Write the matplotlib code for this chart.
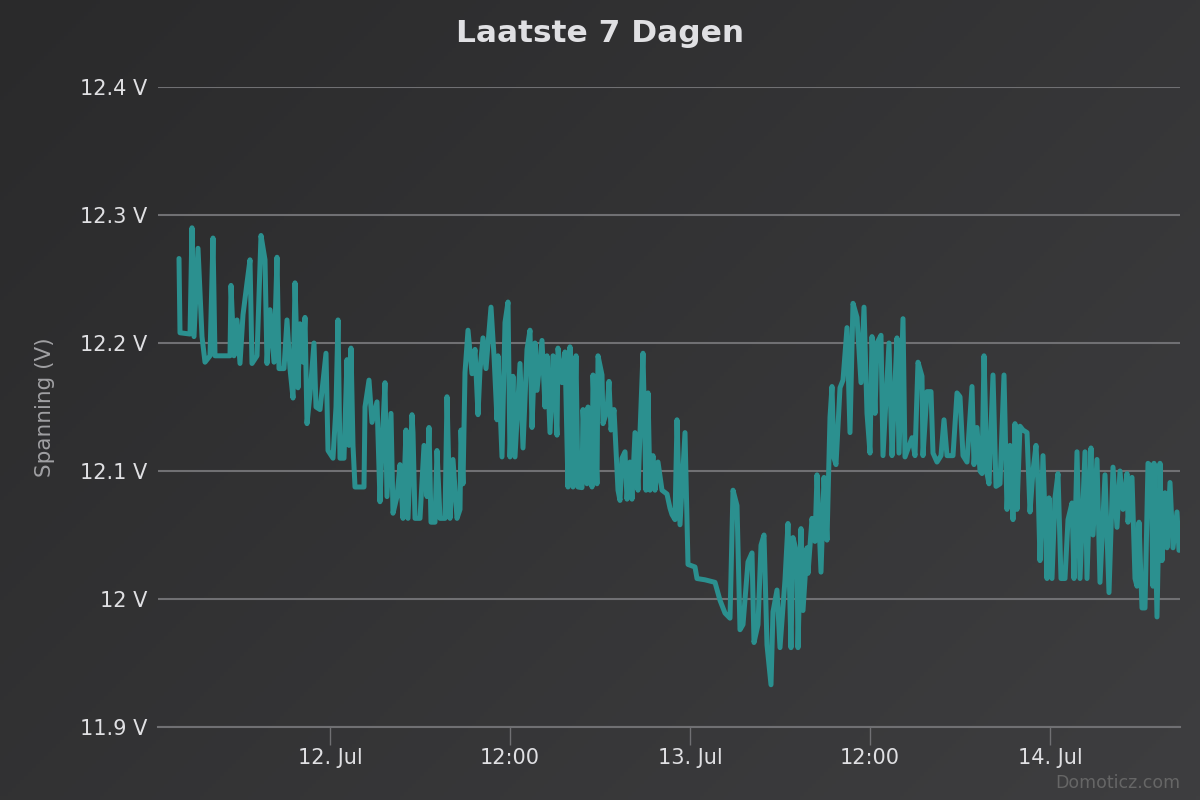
import numpy as np
import matplotlib
matplotlib.use("Agg")
import matplotlib.pyplot as plt
import matplotlib.dates as mdates
from datetime import datetime, timedelta

# ---- data ----
start_time = datetime(2024, 7, 11, 13, 56)
minutes = [0, 4, 44, 52, 60, 76, 92, 104, 124, 136, 144, 184, 204, 208, 220, 232, 244, 256, 272, 284, 292,
           312, 328, 344, 352, 364, 380, 392, 400, 420, 432, 444, 456, 464, 476, 484, 496, 504, 512, 524, 540,
           548, 564, 576, 588, 596, 616, 628, 636, 644, 660, 672, 680, 688, 696, 704, 740, 744, 760, 772, 792,
           804, 812, 824, 832, 848, 856, 872, 884, 896, 908, 916, 932, 936, 944, 964, 980, 992, 1000, 1008, 1024,
           1032, 1044, 1064, 1072, 1084, 1096, 1112, 1124, 1128, 1136, 1144, 1156, 1172, 1184, 1196, 1204, 1216, 1228, 1248, 1260,
           1272, 1276, 1292, 1304, 1316, 1324, 1336, 1344, 1364, 1376, 1392, 1404, 1412, 1424, 1432, 1452, 1464, 1472, 1484, 1496,
           1512, 1516, 1532, 1544, 1556, 1564, 1576, 1588, 1596, 1612, 1616, 1632, 1636, 1652, 1656, 1672, 1676, 1692, 1696, 1712,
           1720, 1728, 1740, 1756, 1764, 1772, 1784, 1792, 1804, 1812, 1824, 1836, 1844, 1856, 1868, 1876, 1884, 1896, 1904, 1916,
           1932, 1952, 1964, 1972, 1984, 1992, 2004, 2024, 2036, 2064, 2072, 2104, 2144, 2164, 2184, 2204, 2216, 2232, 2244, 2256,
           2276, 2292, 2300, 2316, 2328, 2340, 2352, 2368, 2376, 2392, 2404, 2424, 2436, 2448, 2456, 2472, 2476, 2488, 2496, 2512,
           2516, 2532, 2544, 2552, 2568, 2580, 2592, 2604, 2612, 2620, 2628, 2644, 2656, 2672, 2684, 2696, 2712, 2728, 2740, 2752,
           2764, 2772, 2784, 2792, 2808, 2816, 2840, 2852, 2864, 2872, 2880, 2896, 2904, 2932, 2944, 2956, 2972, 2976, 2992, 3008,
           3016, 3032, 3048, 3060, 3072, 3096, 3112, 3124, 3136, 3152, 3172, 3180, 3192, 3204, 3212, 3220, 3232, 3240, 3256, 3268,
           3284, 3300, 3312, 3324, 3336, 3344, 3352, 3364, 3376, 3392, 3404, 3416, 3428, 3436, 3444, 3456, 3472, 3480, 3492, 3504,
           3516, 3528, 3544, 3556, 3572, 3580, 3592, 3604, 3624, 3632, 3648, 3656, 3672, 3684, 3704, 3712, 3720, 3736, 3752, 3764,
           3776, 3792, 3796, 3812, 3824, 3832, 3840, 3852, 3864, 3876, 3888, 3896, 3900, 3912, 3924, 3932, 3944, 3952, 3964, 3976,
           3992, 4000]
volts = [12.266, 12.208, 12.207, 12.290, 12.205, 12.274, 12.205, 12.185, 12.19, 12.282, 12.19, 12.19, 12.19, 12.245, 12.19, 12.218, 12.184, 12.222, 12.247, 12.265, 12.184,
         12.19, 12.284, 12.265, 12.184, 12.226, 12.185, 12.267, 12.18, 12.18, 12.218, 12.18, 12.157, 12.247, 12.165, 12.215, 12.185, 12.22, 12.137, 12.16, 12.2,
         12.15, 12.148, 12.17, 12.192, 12.116, 12.11, 12.15, 12.218, 12.11, 12.11, 12.187, 12.12, 12.196, 12.12, 12.0875, 12.0875, 12.15, 12.171, 12.138, 12.154,
         12.076, 12.12, 12.169, 12.08, 12.145, 12.067, 12.08, 12.105, 12.063, 12.132, 12.063, 12.144, 12.13, 12.063, 12.063, 12.12, 12.08, 12.134, 12.06, 12.06,
         12.116, 12.063, 12.063, 12.158, 12.063, 12.109, 12.063, 12.07, 12.132, 12.09, 12.177, 12.21, 12.176, 12.195, 12.144, 12.179, 12.204, 12.18, 12.228, 12.19,
         12.14, 12.19, 12.111, 12.216, 12.232, 12.111, 12.174, 12.111, 12.184, 12.118, 12.195, 12.21, 12.134, 12.2, 12.163, 12.202, 12.15, 12.19, 12.13, 12.19,
         12.128, 12.196, 12.169, 12.193, 12.0875, 12.197, 12.0875, 12.19, 12.0875, 12.087, 12.148, 12.09, 12.15, 12.0875, 12.175, 12.09, 12.19, 12.175, 12.137, 12.147,
         12.17, 12.132, 12.148, 12.085, 12.077, 12.11, 12.115, 12.078, 12.107, 12.078, 12.13, 12.085, 12.13, 12.192, 12.085, 12.161, 12.085, 12.112, 12.085, 12.107,
         12.085, 12.082, 12.071, 12.066, 12.062, 12.14, 12.058, 12.13, 12.027, 12.025, 12.016, 12.015, 12.013, 11.999, 11.989, 11.985, 12.085, 12.073, 11.976, 11.98,
         12.029, 12.036, 11.966, 11.98, 12.042, 12.05, 11.964, 11.933, 11.99, 12.007, 11.962, 12.015, 12.059, 11.962, 12.048, 12.035, 11.962, 12.055, 11.991, 12.04,
         12.02, 12.063, 12.045, 12.097, 12.021, 12.095, 12.046, 12.142, 12.166, 12.11, 12.105, 12.165, 12.171, 12.212, 12.13, 12.231, 12.22, 12.169, 12.228, 12.145,
         12.114, 12.205, 12.145, 12.2, 12.206, 12.112, 12.2, 12.112, 12.169, 12.204, 12.114, 12.219, 12.111, 12.126, 12.112, 12.185, 12.174, 12.112, 12.162, 12.162,
         12.114, 12.107, 12.112, 12.14, 12.112, 12.112, 12.161, 12.158, 12.112, 12.107, 12.166, 12.105, 12.134, 12.1, 12.098, 12.19, 12.098, 12.09, 12.175, 12.088,
         12.09, 12.175, 12.07, 12.12, 12.062, 12.137, 12.07, 12.135, 12.132, 12.13, 12.068, 12.1, 12.12, 12.09, 12.03, 12.112, 12.016, 12.079, 12.016, 12.079,
         12.098, 12.016, 12.016, 12.062, 12.075, 12.016, 12.115, 12.016, 12.115, 12.016, 12.118, 12.05, 12.109, 12.013, 12.097, 12.05, 12.005, 12.103, 12.056, 12.1,
         12.07, 12.098, 12.06, 12.095, 12.016, 12.01, 12.06, 11.993, 11.993, 12.106, 12.104, 12.01, 12.106, 11.986, 12.106, 12.03, 12.083, 12.04, 12.091, 12.04,
         12.068, 12.038]

y_ticks = [11.9, 12.0, 12.1, 12.2, 12.3, 12.4]
y_tick_labels = ["11.9 V", "12 V", "12.1 V", "12.2 V", "12.3 V", "12.4 V"]
x_ticks = [datetime(2024, 7, 12, 0, 0), datetime(2024, 7, 12, 12, 0), datetime(2024, 7, 13, 0, 0),
           datetime(2024, 7, 13, 12, 0), datetime(2024, 7, 14, 0, 0)]
x_tick_labels = ["12. Jul", "12:00", "13. Jul", "12:00", "14. Jul"]
x_range = [datetime(2024, 7, 11, 12, 32), datetime(2024, 7, 14, 8, 40)]

title = "Laatste 7 Dagen"
y_title = "Spanning (V)"
credit = "Domoticz.com"

times = [start_time + timedelta(minutes=m) for m in minutes]

# ---- figure ----
plt.rcParams['font.family'] = ['DejaVu Sans']
fig = plt.figure(figsize=(12, 8), dpi=100)

# background gradient
bg = fig.add_axes([0, 0, 1, 1], zorder=-10)
gx, gy = np.meshgrid(np.linspace(0, 1, 300), np.linspace(0, 1, 200))
g = (gx * 1200 + gy * 800) / 2000.0
c0 = np.array([0x2a, 0x2a, 0x2b]) / 255.0
c1 = np.array([0x3e, 0x3e, 0x40]) / 255.0
img = c0[None, None, :] * (1 - g[..., None]) + c1[None, None, :] * g[..., None]
bg.imshow(img, aspect='auto', extent=[0, 1, 0, 1], origin='upper')
bg.axis('off')

ax = fig.add_axes([158 / 1200, 1 - 727 / 800, (1180 - 158) / 1200, (727 - 87) / 800])
ax.patch.set_alpha(0)
ax.plot(times, volts, color='#2b908f', lw=3.6, solid_joinstyle='round', solid_capstyle='round', zorder=3)

ax.set_ylim(11.9, 12.4)
ax.set_xlim(x_range[0], x_range[1])
ax.set_yticks(y_ticks)
ax.set_yticklabels(y_tick_labels)
ax.set_xticks(x_ticks)
ax.set_xticklabels(x_tick_labels)

ax.grid(axis='y', color='#707073', lw=1.5)
ax.set_axisbelow(True)
for s in ['top', 'right', 'left']:
    ax.spines[s].set_visible(False)
ax.spines['bottom'].set_color('#707073')
ax.spines['bottom'].set_linewidth(1.5)

ax.tick_params(axis='y', length=0, pad=7.5, labelsize=15, labelcolor='#E0E0E3')
ax.tick_params(axis='x', length=13, width=1, color='#707073', pad=2, labelsize=15, labelcolor='#E0E0E3')

ax.set_ylabel(y_title, color='#A0A0A3', fontsize=15.5, labelpad=18)

fig.text(0.5, 1 - 33 / 800, title, ha='center', va='center', fontsize=22.5, fontweight='bold', color='#E0E0E3')
fig.text(1180 / 1200, 1 - 783 / 800, credit, ha='right', va='center', fontsize=12.5, color='#666666')

fig.savefig('out.png', dpi=100)
